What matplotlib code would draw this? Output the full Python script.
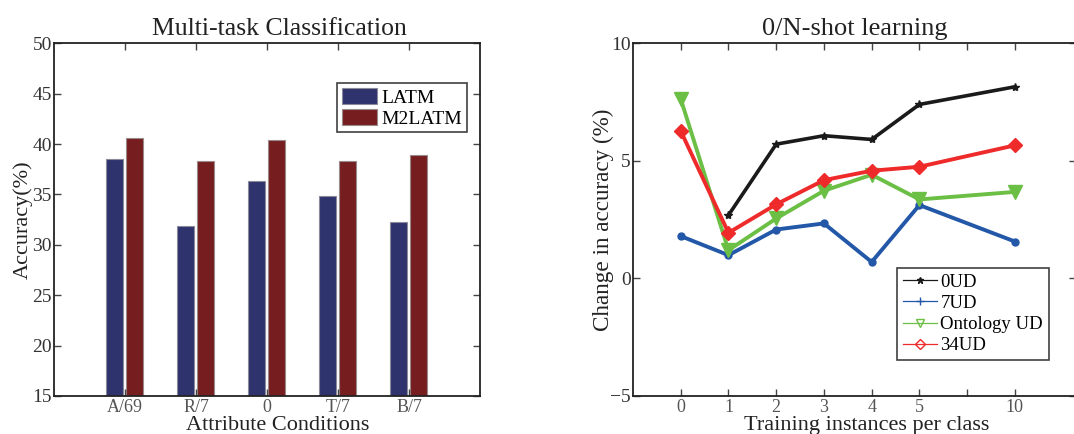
import matplotlib
matplotlib.use("Agg")
import matplotlib.pyplot as plt
from matplotlib.lines import Line2D
import numpy as np

# ---- data ----
conditions = ["A/69", "R/7", "0", "T/7", "B/7"]
latm = [38.5, 31.9, 36.3, 34.8, 32.3]
m2latm = [40.6, 38.3, 40.4, 38.3, 38.9]

shot_labels = ["0", "1", "2", "3", "4", "5", "", "10"]
shot_pos = [0, 1, 2, 3, 4, 5, 7]
ud0_pos = [1, 2, 3, 4, 5, 7]
ud0 = [2.69, 5.71, 6.07, 5.91, 7.40, 8.15]
ud7 = [1.80, 0.99, 2.08, 2.34, 0.70, 3.12, 1.57]
onto = [7.63, 1.20, 2.55, 3.73, 4.41, 3.36, 3.68]
ud34 = [6.27, 1.94, 3.15, 4.18, 4.58, 4.75, 5.66]

plt.rcParams['font.family'] = ['Liberation Serif', 'DejaVu Serif']

fig = plt.figure(figsize=(10.74, 4.34), dpi=100)
H = 434.0
W = 1074.0
bot = 1 - 396 / H
top = 1 - 43.3 / H

spine_c = '#222222'

def style(ax):
    for s in ax.spines.values():
        s.set_linewidth(1.3)
        s.set_color(spine_c)
    ax.tick_params(direction='in', top=True, right=True, length=5, width=1.0,
                   color='#444444')
    ax.tick_params(axis='y', pad=1.5)
    ax.tick_params(axis='x', pad=2)

# ---- left ----
ax1 = fig.add_axes([54 / W, bot, (480 - 54) / W, top - bot])
x = np.arange(1, len(conditions) + 1)
w = 0.24
ax1.bar(x - 0.15, latm, w, bottom=0, color='#2E336D', edgecolor='#8a8a9a', linewidth=0.8, label='LATM')
ax1.bar(x + 0.14, m2latm, w, bottom=0, color='#761D20', edgecolor='#9a8a8a', linewidth=0.8, label='M2LATM')
ax1.set_xlim(0, 6)
ax1.set_ylim(15, 50)
ax1.set_xticks(x)
ax1.set_xticklabels(conditions, fontsize=13, color='#555555')
ax1.set_yticks(np.arange(15, 51, 5))
ax1.tick_params(axis='y', labelsize=14, labelcolor='#333333')
style(ax1)
ax1.set_title("Multi-task Classification", fontsize=18.5, color='#222222', pad=6, x=0.53)
ax1.set_xlabel("Attribute Conditions", fontsize=16, color='#222222')
ax1.xaxis.set_label_coords(0.525, -0.056)
ax1.xaxis.label.set_va('top')
ax1.set_ylabel("Accuracy(%)", fontsize=16, color='#222222', labelpad=0)
leg1 = ax1.legend(loc='upper right', bbox_to_anchor=(0.969, 0.887), fontsize=14,
                  frameon=True, fancybox=False, edgecolor='#111111',
                  handlelength=1.8, handleheight=0.9, handletextpad=0.2,
                  borderpad=0.25, labelspacing=0.1, borderaxespad=0)
leg1.get_frame().set_linewidth(1.2)

# ---- right ----
ax2 = fig.add_axes([633 / W, bot, (1075.5 - 633) / W, top - bot])
c_blk = '#1a1a1a'
c_blu = '#2357A8'
c_grn = '#6BBF45'
c_red = '#EE2A2A'
ax2.plot(ud0_pos, ud0, color=c_blk, lw=2.6, marker='*', ms=6, zorder=5)
ax2.plot(shot_pos, ud7, color=c_blu, lw=2.8, marker='o', ms=5, zorder=3)
ax2.plot(shot_pos, onto, color=c_grn, lw=2.8, marker='v', ms=10, zorder=4)
ax2.plot(shot_pos, ud34, color=c_red, lw=2.8, marker='D', ms=7, zorder=4)
ax2.set_xlim(-1, 8.27)
ax2.set_ylim(-5, 10)
ax2.set_xticks(range(len(shot_labels)))
ax2.set_xticklabels(shot_labels, fontsize=13, color='#555555')
ax2.set_yticks([-5, 0, 5, 10])
ax2.set_yticklabels(['\u22125', '0', '5', '10'])
ax2.tick_params(axis='y', labelsize=14, labelcolor='#333333')
style(ax2)
ax2.set_title("0/N-shot learning", fontsize=19, color='#222222', pad=6)
ax2.set_xlabel("Training instances per class", fontsize=16, color='#222222')
ax2.xaxis.set_label_coords(0.529, -0.056)
ax2.xaxis.label.set_va('top')
ax2.set_ylabel("Change in accuracy (%)", fontsize=16.7, color='#222222', labelpad=-3)

handles = [
    Line2D([], [], color=c_blk, lw=0.9, marker='*', ms=5),
    Line2D([], [], color=c_blu, lw=0.9, marker='+', ms=6),
    Line2D([], [], color=c_grn, lw=0.9, marker='v', ms=6, mfc='none'),
    Line2D([], [], color=c_red, lw=0.9, marker='D', ms=5, mfc='none'),
]
labels = ["0UD", "7UD", "Ontology UD", "34UD"]
leg2 = ax2.legend(handles, labels, loc='upper right', bbox_to_anchor=(0.939, 0.363),
                  fontsize=13.5, frameon=True, fancybox=False, edgecolor='#111111',
                  handlelength=1.8, handletextpad=0.2, borderpad=0.3,
                  labelspacing=0.22, borderaxespad=0)
leg2.get_frame().set_linewidth(1.2)

fig.savefig("out.png", dpi=100)
